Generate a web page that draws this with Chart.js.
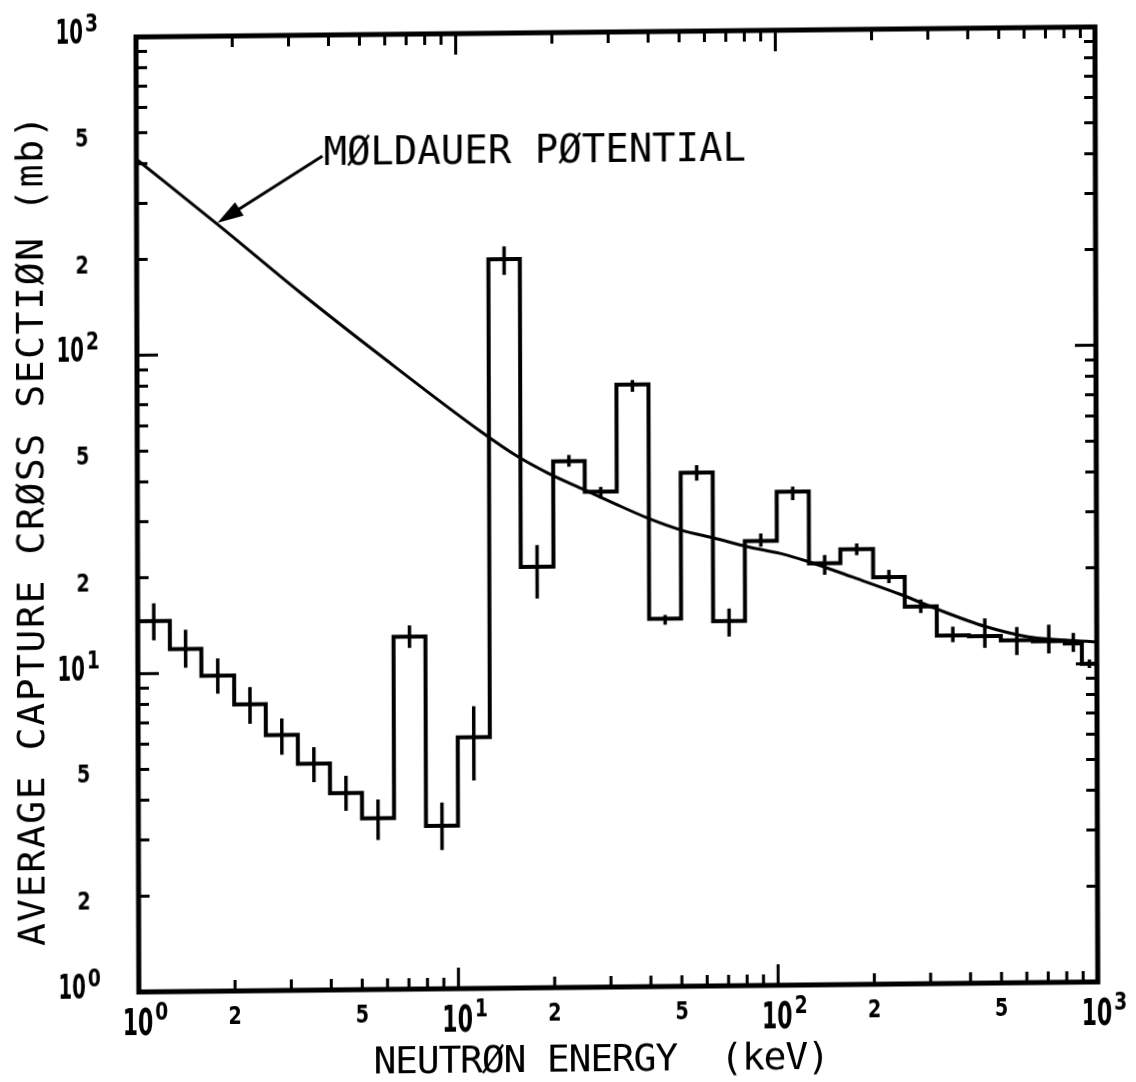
<!DOCTYPE html>
<html>
<head>
<meta charset="utf-8">
<script src="https://cdn.jsdelivr.net/npm/chart.js@4.4.1/dist/chart.umd.min.js"></script>
<style>
  html, body { margin: 0; padding: 0; background: #fff; }
  #wrap { position: relative; width: 1136px; height: 1082px; overflow: hidden; background: #fff; }
  /* the plotted sheet sits slightly askew on the page */
  #c { display: block; transform-origin: 136px 37px; transform: matrix(1, -0.0105, 0.003, 1, 0, 0); }
</style>
</head>
<body>
<div id="wrap"><canvas id="c" width="1136" height="1082"></canvas></div>
<script>
// Neutron energy bin edges (keV)
const binEdges = [1, 1.26, 1.58, 2, 2.51, 3.16, 3.98, 5.01, 6.31, 7.94, 10, 12.6, 15.8, 20, 25.1, 31.6,
                  39.8, 50.1, 63.1, 79.4, 100, 126, 158, 200, 251, 316, 398, 501, 631, 794, 898, 1000];
// Average capture cross section per bin (mb)
const captureMb = [14.6, 11.9, 9.8, 7.95, 6.35, 5.15, 4.15, 3.45, 12.8, 3.25, 6.15, 195, 21, 45, 36, 78,
                   14.3, 41, 14.0, 24.9, 35.5, 21.1, 23.3, 19.0, 15.3, 12.4, 12.3, 11.9, 11.8, 11.6, 10.0];
// Error bar limits per bin (mb)
const errLow  = [12.7, 10.4, 8.6, 6.9, 5.5, 4.5, 3.65, 2.95, 11.8, 2.73, 4.5, 174, 16.7, 43.2, 34.3, 74,
                 13.7, 38.7, 12.5, 23.9, 33.4, 19.4, 22.3, 18.2, 14.6, 11.8, 11.3, 10.7, 10.8, 10.9, 9.7];
const errHigh = [16.6, 13.7, 11.1, 9.0, 7.15, 5.8, 4.7, 3.95, 13.9, 3.85, 7.7, 214, 24.6, 47.1, 37.3, 80.5,
                 14.7, 43.3, 15.3, 26.3, 36.8, 22.4, 24.3, 20.0, 16.1, 13.2, 14.0, 13.1, 13.3, 12.5, 10.3];
// Moldauer optical-model potential calculation
const moldauerKeV = [1, 1.83, 3.26, 5.8, 11.9, 15.5, 19.3, 24.5, 31.1, 39.6, 50.3, 63.9, 81.3, 103, 125,
                     171, 245, 312, 447, 611, 1000];
const moldauerMb  = [413, 252, 155, 97.7, 56.1, 46.7, 41.3, 36.9, 33.0, 29.6, 27.1, 25.5, 23.9, 22.7, 21.4,
                     19.1, 16.7, 15.1, 13.2, 12.2, 11.7];

// Axis tick values and labels ('^' marks an exponent)
const majorTicks = [1, 10, 100, 1000];
const minorTicks = [2, 3, 4, 5, 6, 7, 8, 9, 20, 30, 40, 50, 60, 70, 80, 90, 200, 300, 400, 500, 600, 700, 800, 900];
const labelTicks = [1, 2, 5, 10, 20, 50, 100, 200, 500, 1000];
const tickLabels = ['10^0', '2', '5', '10^1', '2', '5', '10^2', '2', '5', '10^3'];

const xTitle = 'NEUTRØN ENERGY  (keV)';
const yTitle = 'AVERAGE CAPTURE CRØSS SECTIØN (mb)';
const noteText = 'MØLDAUER PØTENTIAL';
// where the note sits and where its arrow points (data coordinates)
const noteAt = { x: 3.85, y: 420 };
const arrowTip = { x: 1.79, y: 259 };

// histogram outline: each bin drawn as a flat top, joined by vertical edges
const histPts = [];
captureMb.forEach((v, i) => {
  histPts.push({ x: binEdges[i], y: v });
  histPts.push({ x: binEdges[i + 1], y: v });
});
// vertical error bars at the geometric bin centres, separated by gaps
const errPts = [];
captureMb.forEach((v, i) => {
  const c = Math.sqrt(binEdges[i] * binEdges[i + 1]);
  errPts.push({ x: c, y: errLow[i] }, { x: c, y: errHigh[i] }, { x: c, y: null });
});
const curvePts = moldauerKeV.map((e, i) => ({ x: e, y: moldauerMb[i] }));

const LABEL_FONT = "'DejaVu Sans','Liberation Sans',sans-serif";
const TEXT_FONT = "'DejaVu Sans Mono','Liberation Mono',monospace";

// condensed bold digits, as a pen plotter draws them
function digits(ctx, str, size, squeeze, x, y, align) {
  ctx.save();
  ctx.font = 'bold ' + size + 'px ' + LABEL_FONT;
  const w = ctx.measureText(str).width * squeeze;
  let left = x;
  if (align === 'center') left = x - w / 2;
  else if (align === 'right') left = x - w;
  ctx.translate(left, y);
  ctx.scale(squeeze, 1);
  ctx.textAlign = 'left';
  ctx.textBaseline = 'alphabetic';
  ctx.fillText(str, 0, 0);
  ctx.restore();
  return w;
}

const frameAndText = {
  id: 'frameAndText',
  afterDraw(chart) {
    const { ctx, chartArea: a, scales: { x, y } } = chart;
    ctx.save();
    ctx.strokeStyle = '#000';
    ctx.fillStyle = '#000';
    ctx.lineCap = 'butt';

    // inward tick marks on all four sides
    ctx.lineWidth = 3;
    const tick = (vals, len) => {
      ctx.beginPath();
      vals.forEach(v => {
        const px = x.getPixelForValue(v);
        ctx.moveTo(px, a.bottom); ctx.lineTo(px, a.bottom - len);
        ctx.moveTo(px, a.top); ctx.lineTo(px, a.top + len);
        const py = y.getPixelForValue(v);
        ctx.moveTo(a.left, py); ctx.lineTo(a.left + len, py);
        ctx.moveTo(a.right, py); ctx.lineTo(a.right - len, py);
      });
      ctx.stroke();
    };
    tick(minorTicks, 11);
    tick(majorTicks.slice(1, 3), 21);

    // frame
    ctx.lineWidth = 5;
    ctx.lineJoin = 'miter';
    ctx.strokeRect(a.left, a.top, a.right - a.left, a.bottom - a.top);

    // tick labels
    labelTicks.forEach((v, i) => {
      const lab = tickLabels[i];
      const px = x.getPixelForValue(v);
      const py = y.getPixelForValue(v);
      if (lab.includes('^')) {
        const [base, exp] = lab.split('^');
        // x axis: mantissa centred on the tick, exponent raised to its right
        const bw = digits(ctx, base, 38, 0.58, px - 1, a.bottom + 43, 'center');
        digits(ctx, exp, 24, 0.78, px - 1 + bw / 2 + 2, a.bottom + 28, 'left');
        // y axis: right-aligned left of the frame
        const ew = digits(ctx, exp, 24, 0.78, a.left - 38, py - 6, 'right');
        digits(ctx, base, 33, 0.6, a.left - 38 - ew - 2, py + 6, 'right');
      } else {
        digits(ctx, lab, 24, 0.8, px, a.bottom + 33, 'center');
        digits(ctx, lab, 24, 0.8, a.left - 48, py + 13, 'right');
      }
    });

    // axis titles
    ctx.font = '38px ' + TEXT_FONT;
    ctx.textAlign = 'center'; ctx.textBaseline = 'alphabetic';
    ctx.save();
    ctx.letterSpacing = '-1.2px';
    ctx.fillText(xTitle, a.left + 462, a.bottom + 84);
    ctx.restore();
    ctx.save();
    ctx.translate(42, a.top + 492);
    ctx.rotate(-Math.PI / 2);
    ctx.letterSpacing = '1.6px';
    ctx.fillText(yTitle, 0, 0);
    ctx.restore();

    // note with arrow pointing at the calculated curve
    const nx = x.getPixelForValue(noteAt.x), ny = y.getPixelForValue(noteAt.y);
    const tx = x.getPixelForValue(arrowTip.x), ty = y.getPixelForValue(arrowTip.y);
    ctx.font = '39px ' + TEXT_FONT;
    ctx.textAlign = 'left'; ctx.textBaseline = 'middle';
    ctx.fillText(noteText, nx, ny);
    const ang = Math.atan2(ty - ny, tx - nx);
    ctx.lineWidth = 3;
    ctx.beginPath();
    ctx.moveTo(nx - 1, ny + 1);
    ctx.lineTo(tx - 18 * Math.cos(ang), ty - 18 * Math.sin(ang));
    ctx.stroke();
    ctx.beginPath();
    ctx.moveTo(tx, ty);
    ctx.lineTo(tx - 26 * Math.cos(ang) + 8 * Math.sin(ang), ty - 26 * Math.sin(ang) - 8 * Math.cos(ang));
    ctx.lineTo(tx - 26 * Math.cos(ang) - 8 * Math.sin(ang), ty - 26 * Math.sin(ang) + 8 * Math.cos(ang));
    ctx.closePath();
    ctx.fill();
    ctx.restore();
  }
};

new Chart(document.getElementById('c').getContext('2d'), {
  type: 'line',
  data: {
    datasets: [
      { data: histPts, borderColor: '#000', borderWidth: 4, pointRadius: 0, tension: 0,
        fill: false, borderJoinStyle: 'miter', borderCapStyle: 'butt' },
      { data: errPts, borderColor: '#000', borderWidth: 3.5, pointRadius: 0, tension: 0,
        fill: false, spanGaps: false },
      { data: curvePts, borderColor: '#000', borderWidth: 3, pointRadius: 0,
        cubicInterpolationMode: 'monotone', fill: false }
    ]
  },
  options: {
    responsive: false,
    animation: false,
    devicePixelRatio: 1,
    layout: { padding: { left: 136, top: 37, right: 41, bottom: 90 } },
    plugins: { legend: { display: false }, tooltip: { enabled: false } },
    scales: {
      x: { type: 'logarithmic', min: 1, max: 1000, display: false },
      y: { type: 'logarithmic', min: 1, max: 1000, display: false }
    }
  },
  plugins: [frameAndText]
});
</script>
</body>
</html>
